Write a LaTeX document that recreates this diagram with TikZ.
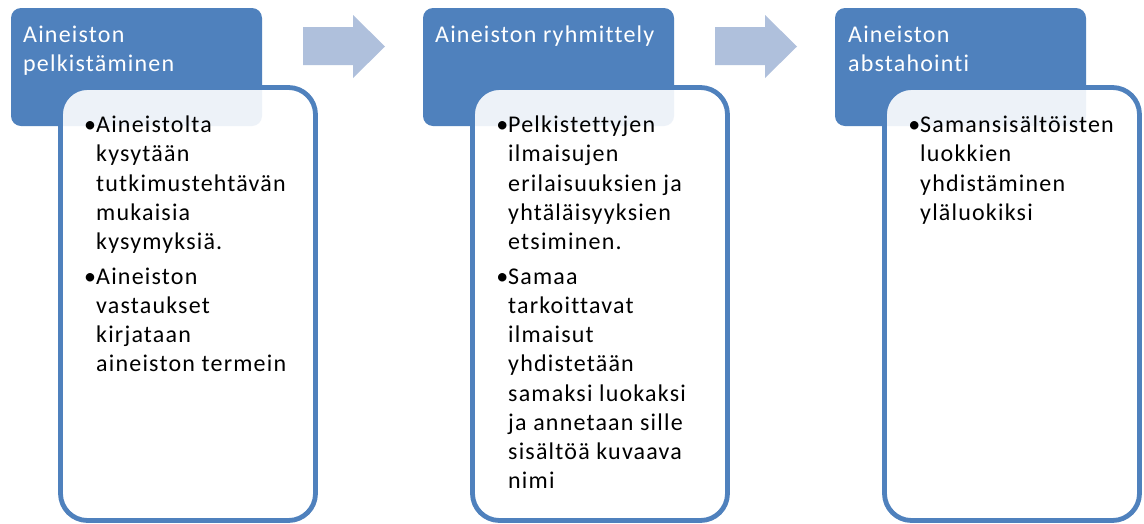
\documentclass[tikz,border=0pt]{standalone}
\usepackage{fontspec}
\setmainfont{Carlito}[LetterSpace=5,Ligatures=NoCommon]
\definecolor{accent}{HTML}{4F81BD}
\definecolor{arrowc}{RGB}{175,192,220}
\newcommand\txtlines[1]{\vtop{\baselineskip=29.2pt\lineskiplimit=-100pt\lineskip=0pt #1}}
\begin{document}
\begin{tikzpicture}[x=1pt,y=-1pt,
  titlebox/.style={fill=accent, rounded corners=10pt, minimum width=251pt, minimum height=118pt, anchor=north west, inner sep=0pt, outer sep=0pt},
  bodybox/.style={draw=accent, line width=4.8pt, fill=white, fill opacity=0.9, rounded corners=27pt, minimum width=255pt, minimum height=433pt, anchor=north west, inner sep=0pt, outer sep=0pt},
  titletxt/.style={anchor=base west, inner sep=0pt, text=white, font=\fontsize{24}{29.2}\selectfont},
  bodytxt/.style={anchor=base west, inner sep=0pt, text=black, font=\fontsize{24}{29.2}\selectfont},
  flowarrow/.style={fill=arrowc}
]
\useasboundingbox (0,0) rectangle (1144,523);
\fill[white] (0,0) rectangle (1144,523);

% arrows
\fill[flowarrow] (303,27) -- (353,27) -- (353,15) -- (385,46.5) -- (353,78) -- (353,65) -- (303,65) -- cycle;
\fill[flowarrow] (715,27) -- (765,27) -- (765,15) -- (797,46.5) -- (765,78) -- (765,65) -- (715,65) -- cycle;

% title boxes
\node[titlebox] (t1) at (11,8) {};
\node[titlebox] (t2) at (423,8) {};
\node[titlebox] (t3) at (835,8) {};

% body boxes
\node[bodybox] (b1) at (60.5,87.5) {};
\node[bodybox] (b2) at (472.5,87.5) {};
\node[bodybox] (b3) at (884.5,87.5) {};

% titles
\node[titletxt] (t1a) at (23,42) {\txtlines{\hbox{Aineiston}\hbox{pelkistäminen}}};
\node[titletxt] (t2a) at (435,42) {\txtlines{\hbox{Aineiston ryhmittely}}};
\node[titletxt] (t3a) at (848,42) {\txtlines{\hbox{Aineiston}\hbox{abstahointi}}};

% body texts
\node[bodytxt] (b1a) at (96,132.7) {\txtlines{\hbox{\llap{•}Aineistolta}\hbox{kysytään}\hbox{tutkimustehtävän}\hbox{mukaisia}\hbox{kysymyksiä.}}};
\node[bodytxt] (b1b) at (96,284.3) {\txtlines{\hbox{\llap{•}Aineiston}\hbox{vastaukset}\hbox{kirjataan}\hbox{aineiston termein}}};

\node[bodytxt] (b2a) at (508,132.7) {\txtlines{\hbox{\llap{•}Pelkistettyjen}\hbox{ilmaisujen}\hbox{erilaisuuksien ja}\hbox{yhtäläisyyksien}\hbox{etsiminen.}}};
\node[bodytxt] (b2b) at (508,284.3) {\txtlines{\hbox{\llap{•}Samaa}\hbox{tarkoittavat}\hbox{ilmaisut}\hbox{yhdistetään}\hbox{samaksi luokaksi}\hbox{ja annetaan sille}\hbox{sisältöä kuvaava}\hbox{nimi}}};

\node[bodytxt] (b3a) at (920,132.7) {\txtlines{\hbox{\llap{•}Samansisältöisten}\hbox{luokkien}\hbox{yhdistäminen}\hbox{yläluokiksi}}};
\end{tikzpicture}
\end{document}
